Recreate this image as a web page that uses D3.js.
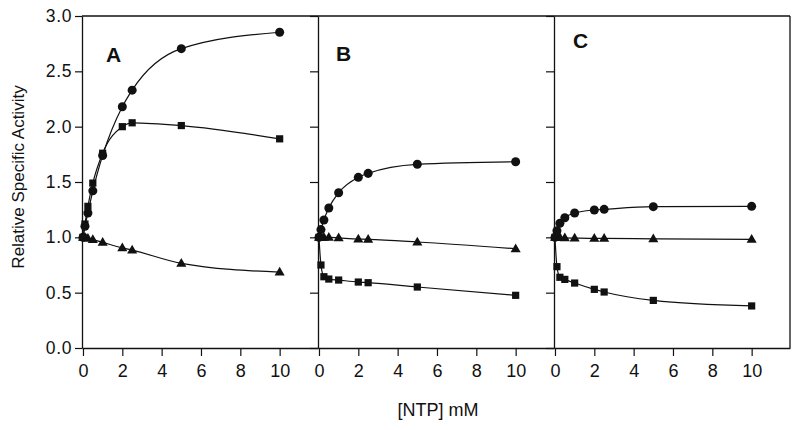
<!DOCTYPE html>
<html><head><meta charset="utf-8">
<script src="https://cdn.jsdelivr.net/npm/d3@7"></script>
<style>body{margin:0;background:#fff}svg{display:block}</style>
</head><body><svg id="c" width="800" height="430"></svg>
<script>
const ntp = [0, 0.1, 0.25, 0.5, 1, 2, 2.5, 5, 10];
const panels = ["A", "B", "C"];
const circlesA = [1.0, 1.1, 1.22, 1.42, 1.74, 2.18, 2.33, 2.705, 2.853];
const squaresA = [1.0, 1.12, 1.28, 1.49, 1.76, 2.0, 2.035, 2.01, 1.89];
const trianglesA = [1.0, 1.0, 0.99, 0.98, 0.955, 0.905, 0.885, 0.765, 0.685];
const circlesB = [1.0, 1.07, 1.157, 1.265, 1.403, 1.542, 1.578, 1.66, 1.683];
const squaresB = [1.0, 0.75, 0.644, 0.623, 0.614, 0.596, 0.59, 0.551, 0.476];
const trianglesB = [1.0, 1.0, 1.0, 1.0, 0.995, 0.985, 0.982, 0.958, 0.897];
const circlesC = [1.0, 1.06, 1.127, 1.177, 1.22, 1.247, 1.253, 1.277, 1.28];
const squaresC = [1.0, 0.735, 0.639, 0.62, 0.587, 0.53, 0.506, 0.43, 0.38];
const trianglesC = [1.0, 1.0, 1.0, 0.995, 0.993, 0.99, 0.99, 0.986, 0.982];
const xTicks = [0, 2, 4, 6, 8, 10];
const yTicks = [0.0, 0.5, 1.0, 1.5, 2.0, 2.5, 3.0];
const yLabel = "Relative Specific Activity";
const xLabel = "[NTP] mM";

const data = {
  A: {circle: circlesA, square: squaresA, triangle: trianglesA},
  B: {circle: circlesB, square: squaresB, triangle: trianglesB},
  C: {circle: circlesC, square: squaresC, triangle: trianglesC}
};

const svg = d3.select("#c");
const plotTop = 16, plotBottom = 348, left0 = 82, pw = 236;
const y = d3.scaleLinear().domain([0, 3]).range([plotBottom, plotTop]);
const ink = "#111";
const font = "Liberation Sans, Arial, sans-serif";
const labelPos = {A: [106, 62], B: [336, 61], C: [573, 48]};

panels.forEach((p, i) => {
  const L = left0 + i * pw;
  const x = d3.scaleLinear().domain([-0.05, 11.95]).range([L, L + pw]);
  const g = svg.append("g");
  const ya = g.append("g").attr("transform", `translate(${L},0)`)
    .call(d3.axisLeft(y).tickValues(yTicks).tickSize(i === 0 ? 7 : 8).tickSizeOuter(0)
      .tickFormat(i === 0 ? d3.format(".1f") : ""));
  ya.select(".domain").attr("stroke", ink).attr("stroke-width", 1.3);
  ya.selectAll(".tick line").attr("stroke", ink).attr("stroke-width", 1.2);
  ya.selectAll("text").attr("font-family", font).attr("font-size", 17.5).attr("fill", ink)
    .attr("letter-spacing", 0.6).attr("x", -10);
  const xa = g.append("g").attr("transform", `translate(0,${plotBottom})`)
    .call(d3.axisBottom(x).tickValues(xTicks).tickSize(8).tickSizeOuter(0).tickPadding(8));
  xa.select(".domain").attr("stroke", ink).attr("stroke-width", 1.3);
  xa.selectAll(".tick line").attr("stroke", ink).attr("stroke-width", 1.2);
  xa.selectAll("text").attr("font-family", font).attr("font-size", 18).attr("fill", ink);
  g.append("line").attr("x1", L).attr("x2", L + pw).attr("y1", plotTop).attr("y2", plotTop)
    .attr("stroke", ink).attr("stroke-width", 1.3);
  if (i === panels.length - 1) {
    g.append("line").attr("x1", L + pw).attr("x2", L + pw).attr("y1", plotTop).attr("y2", plotBottom)
      .attr("stroke", ink).attr("stroke-width", 1.3);
  }
  g.append("text").attr("x", labelPos[p][0]).attr("y", labelPos[p][1])
    .attr("font-family", font).attr("font-weight", "bold").attr("font-size", 21)
    .attr("fill", ink).text(p);

  const line = d3.line().x(d => x(d[0])).y(d => y(d[1])).curve(d3.curveMonotoneX);
  const sym = {circle: d3.symbolCircle, square: d3.symbolSquare, triangle: d3.symbolTriangle};
  const size = {circle: 64, square: 52, triangle: 44};
  ["triangle", "square", "circle"].forEach(k => {
    const pts = ntp.map((v, j) => [v, data[p][k][j]]);
    g.append("path").attr("d", line(pts)).attr("fill", "none")
      .attr("stroke", ink).attr("stroke-width", 1.2);
    g.selectAll(null).data(pts).enter().append("path")
      .attr("transform", d => `translate(${x(d[0])},${y(d[1]) + (k === "triangle" ? 0.5 : 0)})`)
      .attr("d", d3.symbol().type(sym[k]).size(size[k]))
      .attr("fill", ink);
  });
});

svg.append("text").attr("transform", `translate(24,177) rotate(-90)`)
  .attr("text-anchor", "middle").attr("font-family", font).attr("font-size", 17)
  .attr("fill", ink).text(yLabel);
svg.append("text").attr("x", 438).attr("y", 416).attr("text-anchor", "middle")
  .attr("font-family", font).attr("font-size", 18).attr("fill", ink).text(xLabel);
</script></body></html>
